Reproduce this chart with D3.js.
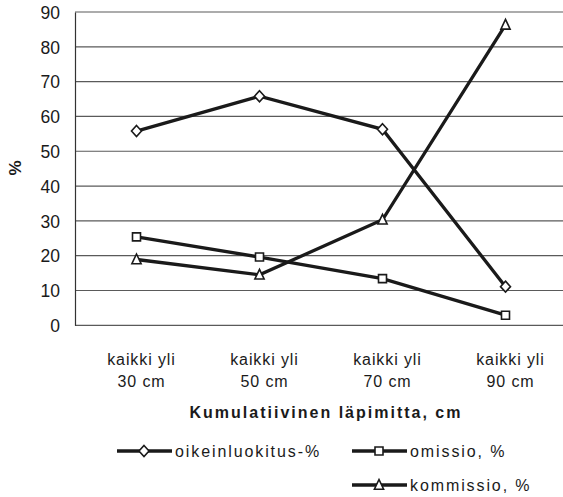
<!DOCTYPE html>
<html><head><meta charset="utf-8">
<script src="https://cdn.jsdelivr.net/npm/d3@7"></script>
<style>
body{margin:0;background:#fff;}
text{font-family:"Liberation Sans",Arial,sans-serif;fill:#1a1a1a;}
</style></head>
<body>
<svg id="chart" width="563" height="497"></svg>
<script>
const categories = ["kaikki yli|30 cm","kaikki yli|50 cm","kaikki yli|70 cm","kaikki yli|90 cm"];
const oikeinluokitus = [55.8, 65.8, 56.3, 11.1];
const omissio = [25.4, 19.6, 13.4, 2.9];
const kommissio = [18.9, 14.5, 30.3, 86.3];
const yTicks = [0,10,20,30,40,50,60,70,80,90];
const seriesNames = ["oikeinluokitus-%","omissio, %","kommissio, %"];
const seriesSymbols = ["diamond","square","triangle"];

const svg = d3.select("#chart");
const x = d3.scaleBand().domain(categories).range([75, 567]);
const y = d3.scaleLinear().domain([0,90]).range([325.3, 12]);

// gridlines
svg.append("g").selectAll("line").data(yTicks).join("line")
  .attr("x1",75).attr("x2",563).attr("y1",d=>y(d)).attr("y2",d=>y(d))
  .attr("stroke","#5a5a5a").attr("stroke-width",1.2);

// y axis
const yAxis = d3.axisLeft(y).tickValues(yTicks).tickSize(0).tickPadding(15);
const gy = svg.append("g").attr("transform","translate(75,0)").call(yAxis);
gy.select(".domain").attr("stroke","#333").attr("stroke-width",1.2);
gy.selectAll("text").attr("font-size",17.5).attr("fill","#1a1a1a").attr("dy","0.36em").style("font-family","'Liberation Sans',Arial,sans-serif");

// x axis labels
const xg = svg.append("g");
categories.forEach(c=>{
  const parts = c.split("|");
  const cx = x(c)+x.bandwidth()/2 + 5;
  const t = xg.append("text").attr("text-anchor","middle").attr("font-size",16).attr("letter-spacing","0.9");
  t.append("tspan").attr("x",cx).attr("y",365).text(parts[0]);
  t.append("tspan").attr("x",cx).attr("y",386.5).text(parts[1]);
});

svg.append("text").attr("x",326).attr("y",418).attr("text-anchor","middle")
  .attr("font-size",16).attr("font-weight","bold").attr("letter-spacing","2").text("Kumulatiivinen läpimitta, cm");
svg.append("text").attr("transform","translate(21,168) rotate(-90)").attr("text-anchor","middle")
  .attr("font-size",17).attr("font-weight","bold").text("%");

// custom marker paths
const markerPath = {
  diamond: "M0,-5.5L5,0L0,5.5L-5,0Z",
  square: "M-4,-4H4V4H-4Z",
  triangle: "M0,-5.5L4.6,4.2H-4.6Z"
};
const data = [oikeinluokitus, omissio, kommissio];
const line = d3.line().x((d,i)=>x(categories[i])+x.bandwidth()/2).y(d=>y(d));

data.forEach((vals,k)=>{
  svg.append("path").datum(vals).attr("d",line).attr("fill","none").attr("stroke","#1a1a1a").attr("stroke-width",3.3);
});
data.forEach((vals,k)=>{
  const s = seriesSymbols[k];
  svg.append("g").selectAll("path").data(vals).join("path")
    .attr("transform",(d,i)=>`translate(${x(categories[i])+x.bandwidth()/2},${y(d)})`)
    .attr("d",markerPath[s])
    .attr("fill","#fff").attr("stroke","#1a1a1a").attr("stroke-width",1.6);
});

// legend
const legendPos = [[117,451],[352,451],[352,485]];
seriesNames.forEach((n,k)=>{
  const [lx,ly] = legendPos[k];
  const g = svg.append("g");
  g.append("line").attr("x1",lx).attr("x2",lx+55).attr("y1",ly).attr("y2",ly).attr("stroke","#1a1a1a").attr("stroke-width",3.3);
  const s = seriesSymbols[k];
  g.append("path").attr("transform",`translate(${lx+27},${ly})`)
    .attr("d",markerPath[s])
    .attr("fill","#fff").attr("stroke","#1a1a1a").attr("stroke-width",1.6);
  g.append("text").attr("x",lx+58).attr("y",ly+5.5).attr("font-size",16).attr("letter-spacing","1.9").text(n);
});
</script>
</body></html>
